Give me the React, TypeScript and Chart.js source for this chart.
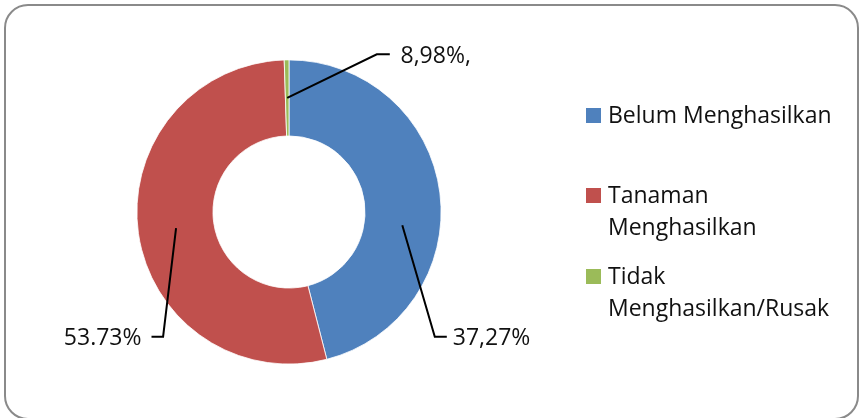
import React, { useEffect, useRef } from "react";
import { Chart, registerables } from "chart.js";

Chart.register(...registerables);

// Data
const categories: string[][] = [
  ["Belum Menghasilkan"],
  ["Tanaman", "Menghasilkan"],
  ["Tidak", "Menghasilkan/Rusak"],
];
const sliceValues: number[] = [46.0, 53.5, 0.5];
const dataLabels: string[] = ["37,27%", "53.73%", "8,98%,"];
const colors: string[] = ["#4F81BD", "#C0504D", "#9BBB59"];

// Layout (not data)
const FONT = '"Open Sans", "DejaVu Sans", sans-serif';
const labelLayout = [
  { frac: 0.584, elbow: [145.8, 124.7], end: [157.8, 124.7], text: [163.8, 126.5], align: "left" },
  { frac: 0.5, elbow: [-125.9, 124.7], end: [-137.5, 124.7], text: [-147.5, 126.5], align: "right" },
  { frac: 0.5, elbow: [87.8, -157.7], end: [100.8, -157.7], text: [111.5, -155.5], align: "left" },
];
const legendX = 586;
const legendTops = [108, 188, 269];
const legendLineH = 32;

const overlayPlugin = {
  id: "overlay",
  afterDraw(chart: any) {
    const ctx = chart.ctx as CanvasRenderingContext2D;
    const meta = chart.getDatasetMeta(0);
    ctx.save();
    meta.data.forEach((arc: any, i: number) => {
      const p = arc.getProps(["x", "y", "startAngle", "endAngle", "innerRadius", "outerRadius"], true);
      const L = labelLayout[i];
      const a = p.startAngle + L.frac * (p.endAngle - p.startAngle);
      const r = (p.innerRadius + p.outerRadius) / 2;
      const ax = p.x + Math.cos(a) * r;
      const ay = p.y + Math.sin(a) * r;
      ctx.strokeStyle = "#000";
      ctx.lineWidth = 2;
      ctx.beginPath();
      ctx.moveTo(ax, ay);
      ctx.lineTo(p.x + L.elbow[0], p.y + L.elbow[1]);
      ctx.lineTo(p.x + L.end[0], p.y + L.end[1]);
      ctx.stroke();
      ctx.fillStyle = "#111";
      ctx.font = `23px ${FONT}`;
      ctx.textAlign = L.align as CanvasTextAlign;
      ctx.textBaseline = "middle";
      ctx.fillText(dataLabels[i], p.x + L.text[0], p.y + L.text[1]);
    });
    // legend
    ctx.textAlign = "left";
    ctx.textBaseline = "alphabetic";
    ctx.font = `23px ${FONT}`;
    categories.forEach((lines, i) => {
      const top = legendTops[i];
      ctx.fillStyle = colors[i];
      ctx.fillRect(legendX, top, 15, 15);
      ctx.fillStyle = "#111";
      lines.forEach((ln, j) => {
        ctx.fillText(ln, legendX + 22, top + 15 + j * legendLineH);
      });
    });
    ctx.restore();
  },
};

export default function App() {
  const ref = useRef<HTMLCanvasElement | null>(null);
  useEffect(() => {
    if (!ref.current) return;
    const chart = new Chart(ref.current, {
      type: "doughnut",
      data: {
        labels: categories.map((c) => c.join(" ")),
        datasets: [
          {
            data: sliceValues,
            backgroundColor: colors,
            borderColor: "#ffffff",
            borderWidth: 0.8,
          },
        ],
      },
      options: {
        animation: false,
        responsive: false,
        cutout: "50%",
        layout: { padding: { left: 136.5, right: 417.5, top: 59.5, bottom: 53.5 } },
        plugins: { legend: { display: false }, tooltip: { enabled: false } },
      },
      plugins: [overlayPlugin],
    });
    return () => chart.destroy();
  }, []);
  return (
    <div style={{ position: "fixed", left: 0, top: 0, width: 859, height: 418, background: "#fff", overflow: "hidden" }}>
      <div
        style={{
          position: "absolute",
          left: 4,
          top: 4,
          width: 855,
          height: 416,
          boxSizing: "border-box",
          border: "2px solid #8a8a8a",
          borderRadius: 24,
        }}
      />
      <canvas ref={ref} width={859} height={418} style={{ position: "absolute", left: 0, top: 0 }} />
    </div>
  );
}
